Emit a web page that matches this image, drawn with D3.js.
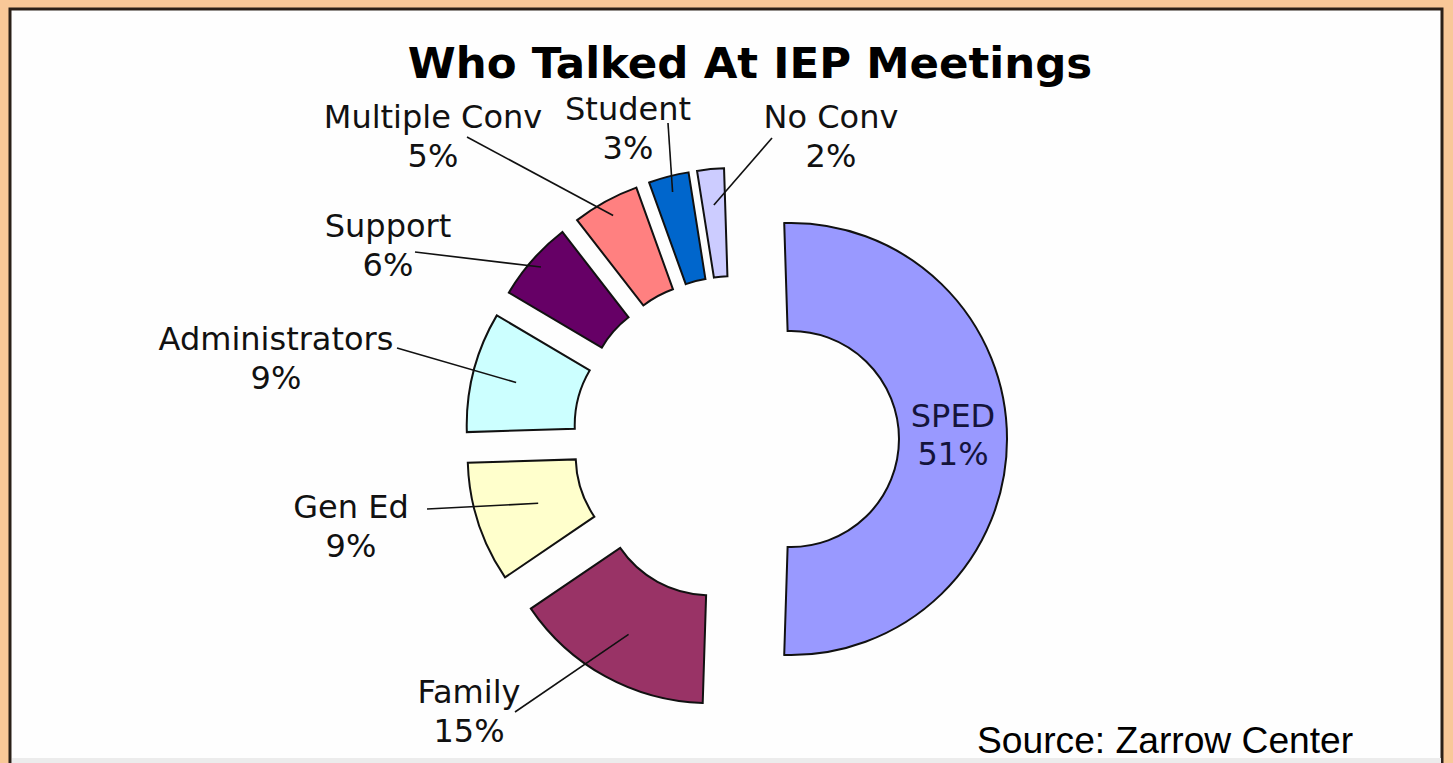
<!DOCTYPE html>
<html>
<head>
<meta charset="utf-8">
<script src="https://cdn.jsdelivr.net/npm/d3@7"></script>
<style>
  html, body { margin: 0; padding: 0; background: #f8c898; }
  svg { display: block; }
</style>
</head>
<body>
<svg id="chart" width="1453" height="763"></svg>
<script>
// Who talked at IEP meetings (share of talk, %)
const categories = ["SPED", "Family", "Gen Ed", "Administrators", "Support", "Multiple Conv", "Student", "No Conv"];
const shares     = [51, 15, 9, 9, 6, 5, 3, 2];
const valueLabels = ["51%", "15%", "9%", "9%", "6%", "5%", "3%", "2%"];
const sliceColors = ["#9999ff", "#993366", "#ffffcc", "#ccffff", "#660066", "#ff8080", "#0066cc", "#ccccff"];

const title = "Who Talked At IEP Meetings";
const source = "Source: Zarrow Center";

// Outside label placement (category line anchor); null = label drawn inside the slice
const labelAnchors = [null, [469, 703], [351, 518], [276, 350], [388, 237], [433, 128], [628, 120], [831, 128]];
// Where each leader line leaves its label
const leaderStarts = [null, [515, 712], [427, 509], [397, 348], [415, 252], [467, 137], [668, 123], [772, 138]];
// How far into the slice (radius from its own centre) each leader line reaches
const leaderDepth = [null, 168, 153, 172, 205, 200, 200, 180];

const W = 1453, H = 763;
const svg = d3.select("#chart");

// framed white panel
svg.append("rect").attr("x", 0).attr("y", 0).attr("width", W).attr("height", H).attr("fill", "#f8c898");
svg.append("rect").attr("x", 10).attr("y", 9).attr("width", 1432).attr("height", 780)
  .attr("fill", "#fefefe").attr("stroke", "#2a2018").attr("stroke-width", 3);
svg.append("rect").attr("x", 12).attr("y", 758).attr("width", 1429).attr("height", 5).attr("fill", "#ececec");

// title
svg.append("text").attr("x", 750).attr("y", 78).attr("text-anchor", "middle")
  .attr("font-family", "DejaVu Sans, Verdana, sans-serif").attr("font-weight", "bold")
  .attr("font-size", 43.5).attr("fill", "#000").text(title);

// exploded doughnut
const cx = 736, cy = 439;
const innerR = 108, outerR = 216;
const explode = 55;
const start = -Math.PI * 0.01;

const pie = d3.pie().sort(null).value(d => d).startAngle(start).endAngle(start + 2 * Math.PI);
const arcs = pie(shares);
const arc = d3.arc().innerRadius(innerR).outerRadius(outerR);

function offsetOf(a) {
  const mid = (a.startAngle + a.endAngle) / 2;
  return [cx + explode * Math.sin(mid), cy - explode * Math.cos(mid)];
}

const g = svg.append("g");
arcs.forEach((a, i) => {
  const [ox, oy] = offsetOf(a);
  g.append("path")
    .attr("transform", `translate(${ox},${oy})`)
    .attr("d", arc(a))
    .attr("fill", sliceColors[i])
    .attr("stroke", "#111")
    .attr("stroke-width", 2)
    .attr("stroke-linejoin", "miter");
});

// labels and leader lines
const font = "DejaVu Sans, Verdana, sans-serif";
const fontSize = 32;
const lineGap = 39;
arcs.forEach((a, i) => {
  const [ox, oy] = offsetOf(a);
  const mid = (a.startAngle + a.endAngle) / 2;
  if (labelAnchors[i] === null) {
    const [mx, my] = arc.centroid(a);
    const t = svg.append("text").attr("text-anchor", "middle")
      .attr("font-family", font).attr("font-size", fontSize).attr("fill", "#14143c");
    t.append("tspan").attr("x", ox + mx).attr("y", oy + my - 12).text(categories[i]);
    t.append("tspan").attr("x", ox + mx).attr("y", oy + my - 12 + 38).text(valueLabels[i]);
    return;
  }
  const [lx, ly] = labelAnchors[i];
  const [sx, sy] = leaderStarts[i];
  const depth = leaderDepth[i];
  const ex = ox + depth * Math.sin(mid), ey = oy - depth * Math.cos(mid);
  svg.append("line").attr("x1", sx).attr("y1", sy).attr("x2", ex).attr("y2", ey)
    .attr("stroke", "#111").attr("stroke-width", 1.6);
  const t = svg.append("text").attr("text-anchor", "middle")
    .attr("font-family", font).attr("font-size", fontSize).attr("fill", "#111");
  t.append("tspan").attr("x", lx).attr("y", ly).text(categories[i]);
  t.append("tspan").attr("x", lx).attr("y", ly + lineGap).text(valueLabels[i]);
});

// source note
svg.append("text").attr("x", 977).attr("y", 753)
  .attr("font-family", "Liberation Sans, Arial, sans-serif").attr("font-size", 37.2)
  .attr("fill", "#000").text(source);
</script>
</body>
</html>
